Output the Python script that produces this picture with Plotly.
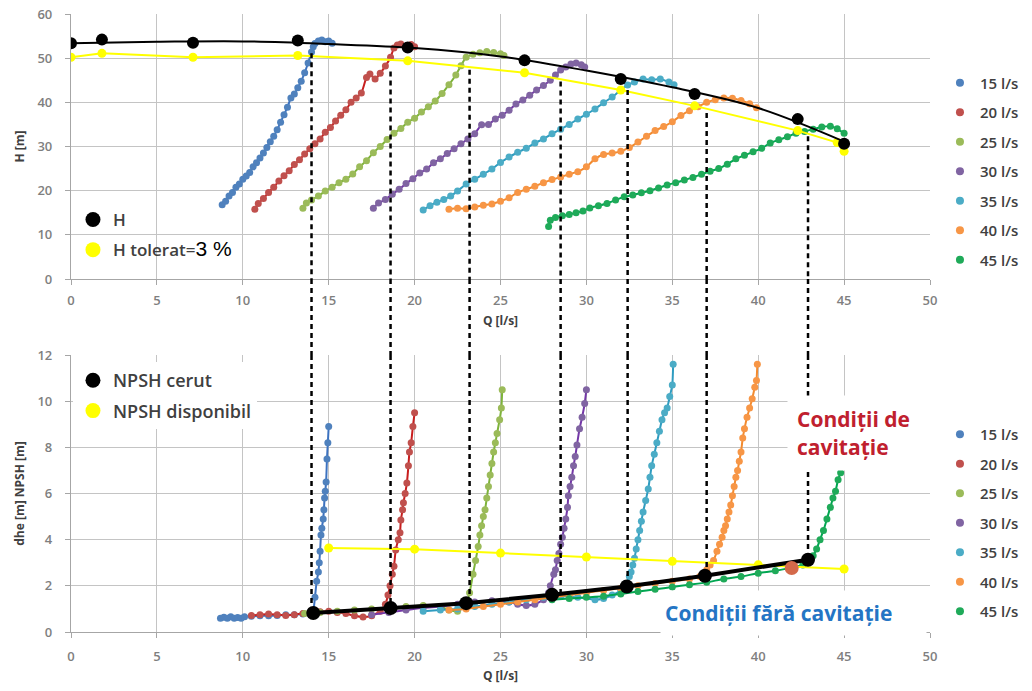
import plotly.graph_objects as go

# ---------------- top panel: head H versus flow Q ----------------
h_q = [0, 1.8, 7.1, 13.2, 19.6, 26.4, 32.0, 36.3, 42.3, 45.0]
h_val = [53.4, 54.2, 53.5, 54.0, 52.4, 49.5, 45.3, 41.9, 36.2, 30.6]
h_curve_q = [0, 5, 10, 15, 20, 25, 30, 35, 40, 45]
h_curve = [53.4, 53.7, 53.8, 53.2, 52.3, 50.4, 47.2, 43.4, 38.7, 31.1]
htol_q = [0, 1.8, 7.1, 13.2, 19.6, 26.4, 32.0, 36.3, 42.3, 44.6, 45.0]
htol_val = [50.2, 51.1, 50.2, 50.6, 49.4, 46.7, 42.8, 39.2, 33.6, 30.9, 28.9]

series_names = ["15 l/s", "20 l/s", "25 l/s", "30 l/s", "35 l/s", "40 l/s", "45 l/s"]

q15 = [8.8, 9.0, 9.2, 9.4, 9.6, 9.8, 10.0, 10.2, 10.4, 10.6, 10.8, 11.0, 11.2, 11.4, 11.6, 11.8, 12.0,
       12.2, 12.4, 12.6, 12.8, 13.0, 13.2, 13.4, 13.6, 13.8, 14.0, 14.1, 14.2, 14.4, 14.6, 14.8, 15.0, 15.2]
h15 = [16.8, 17.6, 18.8, 19.6, 20.8, 21.5, 22.6, 23.3, 24.1, 25.4, 26.3, 27.4, 28.5, 29.8, 31.1, 32.3, 33.8,
       35.5, 37.2, 38.9, 41.0, 41.9, 43.3, 44.8, 46.7, 48.9, 51.4, 52.6, 53.3, 53.9, 54.1, 53.7, 53.9, 53.4]

q20 = [10.7, 10.9, 11.2, 11.5, 11.8, 12.1, 12.4, 12.7, 13.0, 13.3, 13.6, 13.9, 14.2, 14.5, 14.8, 15.1, 15.4,
       15.7, 16.0, 16.3, 16.6, 16.9, 17.2, 17.4, 17.7, 18.0, 18.3, 18.6, 18.8, 19.0, 19.2, 19.5, 19.8, 20.0]
h20 = [15.8, 17.1, 18.2, 19.6, 20.8, 22.2, 23.4, 24.5, 25.9, 27.0, 28.3, 29.5, 30.6, 31.7, 33.2, 34.3, 35.8,
       37.1, 38.3, 40.0, 41.0, 42.1, 45.6, 46.4, 45.3, 46.6, 48.2, 50.2, 52.3, 53.0, 53.2, 52.7, 53.1, 52.6]

q25 = [13.5, 13.7, 14.0, 14.4, 14.8, 15.2, 15.6, 16.0, 16.4, 16.8, 17.2, 17.6, 18.0, 18.4, 18.8, 19.2,
       19.6, 20.0, 20.4, 20.8, 21.2, 21.6, 22.0, 22.4, 22.7, 23.0, 23.4, 23.8, 24.2, 24.6, 25.0, 25.2]
h25 = [16.0, 17.2, 17.9, 18.8, 19.9, 20.8, 21.8, 22.6, 23.8, 25.4, 26.8, 28.6, 30.0, 31.6, 33.0, 34.1,
       35.5, 36.4, 37.8, 39.0, 40.3, 42.0, 44.0, 46.2, 48.3, 50.2, 50.9, 51.2, 51.5, 51.3, 51.0, 50.6]

q30 = [17.6, 17.9, 18.3, 18.7, 19.1, 19.5, 19.9, 20.3, 20.7, 21.1, 21.5, 21.9, 22.3, 22.7, 23.1, 23.5, 23.9,
       24.3, 24.7, 25.1, 25.5, 25.9, 26.3, 26.7, 27.1, 27.5, 27.9, 28.2, 28.5, 28.8, 29.1, 29.4, 29.7, 29.9]
h30 = [16.0, 17.2, 18.0, 19.2, 20.3, 21.6, 22.7, 24.0, 24.9, 26.3, 27.2, 28.4, 29.5, 30.6, 31.7, 32.9, 34.9,
       35.0, 36.2, 37.1, 38.2, 39.6, 40.5, 41.6, 42.8, 43.8, 45.0, 46.2, 47.3, 48.0, 48.7, 48.9, 48.5, 48.0]

q35 = [20.5, 20.9, 21.3, 21.7, 22.1, 22.5, 23.0, 23.5, 24.0, 24.5, 25.0, 25.5, 26.0, 26.5, 27.0, 27.5,
       28.0, 28.5, 29.0, 29.5, 30.0, 30.5, 31.0, 31.5, 32.0, 32.4, 32.8, 33.3, 33.8, 34.3, 34.8, 35.1]
h35 = [15.6, 16.6, 17.4, 18.0, 18.8, 19.9, 21.5, 22.6, 23.7, 24.9, 26.4, 27.6, 28.7, 29.6, 30.8, 31.7,
       32.9, 33.9, 35.0, 36.2, 37.3, 38.5, 39.9, 41.2, 42.8, 43.9, 44.6, 45.3, 45.1, 45.3, 44.6, 44.0]

q40 = [22.0, 22.5, 23.0, 23.5, 24.0, 24.5, 25.0, 25.5, 26.0, 26.5, 27.0, 27.5, 28.0, 28.5, 29.0, 29.5, 30.0,
       30.5, 31.0, 31.5, 32.0, 32.5, 33.0, 33.5, 34.0, 34.5, 35.0, 35.5, 36.0, 36.5, 37.0, 37.5, 38.0, 38.5,
       39.0, 39.5, 39.9]
h40 = [15.8, 16.0, 15.9, 16.3, 16.7, 17.0, 17.6, 18.4, 19.6, 20.3, 21.0, 21.8, 22.5, 23.1, 23.7, 24.3, 25.4,
       27.2, 28.2, 28.5, 28.9, 29.8, 31.0, 32.3, 33.6, 34.5, 35.6, 37.0, 38.1, 39.0, 40.0, 40.6, 41.0, 40.9,
       40.4, 39.7, 38.8]

q45 = [27.8, 27.9, 28.2, 28.6, 29.0, 29.4, 29.8, 30.2, 30.7, 31.2, 31.7, 32.2, 32.7, 33.2, 33.7, 34.2, 34.7,
       35.2, 35.7, 36.2, 36.7, 37.2, 37.7, 38.2, 38.7, 39.2, 39.7, 40.2, 40.7, 41.2, 41.7, 42.2, 42.7, 43.2,
       43.7, 44.2, 44.6, 45.0]
h45 = [11.9, 13.3, 13.9, 14.3, 14.6, 15.0, 15.4, 16.1, 16.6, 17.1, 17.9, 18.6, 19.0, 19.5, 20.0, 20.6, 21.3,
       21.8, 22.4, 23.0, 23.7, 24.4, 25.0, 26.0, 27.2, 28.0, 28.8, 29.6, 30.8, 31.5, 32.2, 33.0, 33.4, 33.9,
       34.4, 34.6, 34.0, 33.0]

# ---------------- bottom panel: dhe / NPSH versus flow Q ----------------
q15b = [8.7, 8.9, 9.1, 9.3, 9.5, 9.7, 9.9, 10.1, 10.5, 11.0, 11.5, 12.0, 12.5, 13.0, 13.5, 14.0,
        14.1, 14.2, 14.3, 14.4, 14.45, 14.5, 14.55, 14.6, 14.68, 14.72, 14.76, 14.8, 14.85, 14.9, 14.95, 15.0]
n15 = [0.6, 0.64, 0.6, 0.66, 0.6, 0.63, 0.6, 0.66, 0.68, 0.7, 0.7, 0.72, 0.75, 0.75, 0.78, 0.8,
       0.9, 1.5, 2.2, 2.6, 3.0, 3.5, 4.2, 4.5, 4.9, 5.3, 5.8, 6.1, 6.5, 7.5, 8.2, 8.9]

q20b = [10.5, 11.0, 11.5, 12.0, 12.5, 13.0, 13.5, 14.0, 14.5, 15.0, 15.5, 16.0, 16.5, 17.0, 17.5, 18.0,
        18.3, 18.45, 18.57, 18.7, 18.8, 18.9, 19.05, 19.15, 19.2, 19.3, 19.35, 19.45, 19.55, 19.64, 19.7,
        19.8, 19.9, 20.0]
n20 = [0.72, 0.75, 0.78, 0.75, 0.72, 0.75, 0.8, 0.85, 0.88, 0.9, 0.85, 0.8, 0.7, 0.65, 0.7, 0.9,
       1.2, 1.6, 2.0, 2.5, 2.85, 3.55, 4.0, 4.3, 4.85, 5.3, 5.6, 6.0, 6.45, 7.2, 7.8, 8.2, 8.9, 9.5]

q25b = [13.6, 14.5, 15.5, 16.5, 17.5, 18.5, 19.5, 20.5, 21.5, 22.0, 22.5, 23.0, 23.2, 23.4, 23.55, 23.7,
        23.8, 23.9, 24.0, 24.1, 24.2, 24.3, 24.4, 24.5, 24.6, 24.7, 24.8, 24.95, 25.05, 25.1]
n25 = [0.8, 0.85, 0.9, 0.95, 1.0, 1.05, 1.1, 1.15, 1.1, 0.95, 0.9, 1.2, 1.7, 2.5, 3.1, 3.7,
       4.2, 4.6, 5.0, 5.3, 5.8, 6.3, 6.8, 7.3, 7.8, 8.2, 8.6, 9.2, 9.7, 10.5]

q30b = [17.5, 18.5, 19.5, 20.5, 21.5, 22.5, 23.5, 24.5, 25.5, 26.0, 26.5, 27.0, 27.5, 27.8, 27.9, 28.1,
        28.2, 28.3, 28.4, 28.5, 28.6, 28.7, 28.8, 28.9, 28.95, 29.05, 29.15, 29.25, 29.35, 29.45, 29.6,
        29.75, 29.9, 30.0]
n30 = [0.75, 0.85, 0.95, 1.05, 1.1, 1.2, 1.3, 1.35, 1.3, 1.2, 1.15, 1.2, 1.4, 1.7, 2.0, 2.5,
       2.7, 3.1, 3.4, 3.8, 4.1, 4.5, 4.9, 5.4, 5.9, 6.3, 6.7, 7.2, 7.6, 8.1, 8.8, 9.3, 9.9, 10.5]

q35b = [20.5, 21.5, 22.5, 23.5, 24.5, 25.5, 26.5, 27.5, 28.5, 29.5, 30.5, 31.0, 31.5, 32.0, 32.3, 32.5,
        32.6, 32.7, 32.8, 32.9, 33.0, 33.1, 33.2, 33.3, 33.45, 33.6, 33.7, 33.8, 33.95, 34.1, 34.25, 34.4,
        34.55, 34.7, 34.85, 35.0, 35.05]
n35 = [0.9, 0.95, 1.0, 1.1, 1.2, 1.3, 1.4, 1.5, 1.55, 1.5, 1.4, 1.45, 1.6, 1.8, 2.1, 2.4,
       2.6, 2.9, 3.2, 3.6, 4.0, 4.4, 4.8, 5.2, 5.7, 6.2, 6.7, 7.2, 7.7, 8.2, 8.7, 9.2,
       9.5, 9.7, 10.2, 10.7, 11.6]

q40b = [22.0, 23.0, 24.0, 25.0, 26.0, 27.0, 28.0, 29.0, 30.0, 31.0, 32.0, 33.0, 34.0, 35.0, 36.0, 36.6,
        37.0, 37.2, 37.4, 37.6, 37.75, 37.9, 38.0, 38.1, 38.2, 38.3, 38.4, 38.5, 38.6, 38.7, 38.8, 38.9,
        39.0, 39.1, 39.2, 39.35, 39.5, 39.65, 39.8, 39.9, 39.95]
n40 = [0.95, 1.0, 1.1, 1.2, 1.3, 1.4, 1.5, 1.6, 1.7, 1.8, 1.9, 2.0, 2.1, 2.2, 2.3, 2.4,
       2.7, 2.9, 3.1, 3.5, 3.8, 4.1, 4.4, 4.6, 4.9, 5.2, 5.5, 5.9, 6.3, 6.7, 7.0, 7.4,
       7.8, 8.4, 8.8, 9.3, 9.7, 10.1, 10.6, 10.9, 11.6]

q45b = [28.0, 29.0, 30.0, 31.0, 32.0, 33.0, 34.0, 35.0, 36.0, 37.0, 38.0, 39.0, 40.0, 41.0, 42.0, 42.6,
        43.0, 43.2, 43.4, 43.6, 43.8, 44.0, 44.2, 44.35, 44.5, 44.65, 44.8, 44.95]
n45 = [1.4, 1.45, 1.5, 1.55, 1.65, 1.75, 1.85, 1.95, 2.05, 2.15, 2.3, 2.4, 2.55, 2.65, 2.8, 2.9,
       3.05, 3.3, 3.6, 4.0, 4.4, 4.9, 5.4, 5.8, 6.1, 6.6, 6.9, 7.2]

npsh_req_q = [14.1, 18.6, 23.0, 28.0, 32.35, 36.9, 42.9]
npsh_req = [0.82, 1.04, 1.25, 1.61, 1.97, 2.44, 3.13]
npsh_av_q = [15, 20, 25, 30, 35, 40, 45]
npsh_av = [3.64, 3.59, 3.42, 3.25, 3.06, 2.91, 2.73]
onset45_q = [41.95]
onset45 = [2.77]

# onset of cavitation: flow, head on the top panel, NPSH on the bottom panel
cav_q = [14.0, 18.6, 23.2, 28.5, 32.4, 37.0, 42.9]
cav_h = [51.1, 47.0, 47.4, 44.7, 42.8, 37.6, 32.3]
cav_npsh = [0.82, 1.04, 1.25, 1.61, 1.97, 2.44, 3.13]

top_q = [q15, q20, q25, q30, q35, q40, q45]
top_h = [h15, h20, h25, h30, h35, h40, h45]
bot_q = [q15b, q20b, q25b, q30b, q35b, q40b, q45b]
bot_n = [n15, n20, n25, n30, n35, n40, n45]

marker_colors = ["#4F81BD", "#C0504D", "#9BBB59", "#8064A2", "#4BACC6", "#F79646", "#1FAA59"]
line_colors = ["#3C72C0", "#C81E1E", "#7DB33A", "#7437A8", "#2F9CC0", "#F28A2E", "#00A651"]

TOP_DOM = [0.5712, 1.0]
BOT_DOM = [0.0, 0.4482]

fig = go.Figure()

# measured series (top panel)
for name, xs, ys, mc, lc in zip(series_names, top_q, top_h, marker_colors, line_colors):
    fig.add_trace(go.Scatter(
        x=xs, y=ys, mode="lines+markers", xaxis="x", yaxis="y", showlegend=False,
        line=dict(color=lc, width=2, shape="spline", smoothing=0.6),
        marker=dict(color=mc, size=7), name=name))

fig.add_trace(go.Scatter(x=htol_q, y=htol_val, mode="lines+markers", xaxis="x", yaxis="y",
                         showlegend=False, line=dict(color="#FFFF00", width=2),
                         marker=dict(color="#FFFF00", size=9), name="H tolerat"))
fig.add_trace(go.Scatter(x=h_curve_q, y=h_curve, mode="lines", xaxis="x", yaxis="y",
                         showlegend=False, line=dict(color="black", width=2, shape="spline"),
                         name="H"))
fig.add_trace(go.Scatter(x=h_q, y=h_val, mode="markers", xaxis="x", yaxis="y",
                         showlegend=False, marker=dict(color="black", size=12), name="H"))

# measured series (bottom panel)
for name, xs, ys, mc, lc in zip(series_names, bot_q, bot_n, marker_colors, line_colors):
    fig.add_trace(go.Scatter(
        x=xs, y=ys, mode="lines+markers", xaxis="x2", yaxis="y2", showlegend=False,
        line=dict(color=lc, width=2, shape="spline", smoothing=0.5),
        marker=dict(color=mc, size=7), name=name))

fig.add_trace(go.Scatter(x=npsh_av_q, y=npsh_av, mode="lines+markers", xaxis="x2", yaxis="y2",
                         showlegend=False, line=dict(color="#FFFF00", width=2),
                         marker=dict(color="#FFFF00", size=9), name="NPSH disponibil"))
fig.add_trace(go.Scatter(x=npsh_req_q, y=npsh_req, mode="lines+markers", xaxis="x2", yaxis="y2",
                         showlegend=False, line=dict(color="black", width=4),
                         marker=dict(color="black", size=14), name="NPSH cerut"))
fig.add_trace(go.Scatter(x=onset45_q, y=onset45, mode="markers", xaxis="x2", yaxis="y2",
                         showlegend=False, marker=dict(color="#D4694A", size=14), name="45 l/s"))

# legend entries (symbols only)
def legend_dot(name, color, size, legend, group):
    fig.add_trace(go.Scatter(x=[None], y=[None], mode="markers", name=name, legend=legend,
                             legendgroup=group, marker=dict(color=color, size=size),
                             xaxis="x", yaxis="y", showlegend=True))

legend_dot("H", "black", 15, "legend", "a1")
legend_dot("H tolerat=<span style='font-family:Arial, Liberation Sans;font-size:21px;"
           "color:#000000;font-weight:400'>3 %</span>", "#FFFF00", 15, "legend", "a2")
legend_dot("NPSH cerut", "black", 15, "legend2", "b1")
legend_dot("NPSH disponibil", "#FFFF00", 15, "legend2", "b2")
for i, (name, mc) in enumerate(zip(series_names, marker_colors)):
    legend_dot(name, mc, 8, "legend3", f"c{i}")
for i, (name, mc) in enumerate(zip(series_names, marker_colors)):
    legend_dot(name, mc, 8, "legend4", f"d{i}")

# dashed markers of cavitation onset, running through both panels
dash_line = dict(color="black", width=2.5, dash="5px,4px")
for q, h, n in zip(cav_q, cav_h, cav_npsh):
    fig.add_shape(type="line", xref="x", yref="y", x0=q, x1=q, y0=h, y1=0, line=dash_line)
    fig.add_shape(type="line", xref="x", yref="paper", x0=q, x1=q,
                  y0=TOP_DOM[0], y1=BOT_DOM[1], line=dash_line)
    fig.add_shape(type="line", xref="x2", yref="y2", x0=q, x1=q, y0=12, y1=n, line=dash_line)

tick_font = dict(family="Open Sans", size=13, color="#7F7F7F", weight=600)
title_font = dict(family="Open Sans", size=12, color="#404040", weight=700)
axis_common = dict(showgrid=True, gridcolor="#C4C4C4", gridwidth=1.3, zeroline=False,
                   showline=True, linecolor="#A6A6A6", linewidth=1.3, ticks="outside",
                   ticklen=5, tickcolor="#A6A6A6", tickwidth=1.3, tickfont=tick_font)

fig.update_layout(
    width=1032, height=691,
    margin=dict(l=71, r=102, t=14, b=59, autoexpand=False),
    paper_bgcolor="white", plot_bgcolor="white",
    font=dict(family="Open Sans", size=13, color="#404040"),
    xaxis=dict(domain=[0, 1], anchor="y", range=[0, 50], dtick=5, ticklabelstandoff=4,
               title=dict(text="Q [l/s]", font=title_font, standoff=8), **axis_common),
    yaxis=dict(domain=TOP_DOM, anchor="x", range=[0, 60], dtick=10, ticklabelstandoff=10,
               title=dict(text="H [m]", font=title_font, standoff=10), **axis_common),
    xaxis2=dict(domain=[0, 1], anchor="y2", range=[0, 50], dtick=5, ticklabelstandoff=7,
                title=dict(text="Q [l/s]", font=title_font, standoff=7), **axis_common),
    yaxis2=dict(domain=BOT_DOM, anchor="x2", range=[0, 12], dtick=2, ticklabelstandoff=10,
                title=dict(text="dhe [m] NPSH [m]", font=title_font, standoff=10), **axis_common),
    legend=dict(x=0.0023, y=0.6958, xanchor="left", yanchor="top", bgcolor="rgba(0,0,0,0)",
                font=dict(family="Open Sans", size=17, color="#404040", weight=600),
                traceorder="grouped", tracegroupgap=5),
    legend2=dict(x=0.0023, y=0.4369, xanchor="left", yanchor="top", bgcolor="white",
                 font=dict(family="Open Sans", size=18, color="#404040", weight=600),
                 traceorder="grouped", tracegroupgap=4),
    legend3=dict(x=1.0116, y=0.915, xanchor="left", yanchor="top", bgcolor="rgba(0,0,0,0)",
                 font=dict(family="Open Sans", size=15, color="#404040", weight=600),
                 traceorder="grouped", tracegroupgap=7),
    legend4=dict(x=1.0116, y=0.3463, xanchor="left", yanchor="top", bgcolor="rgba(0,0,0,0)",
                 font=dict(family="Open Sans", size=15, color="#404040", weight=600),
                 traceorder="grouped", tracegroupgap=7),
    annotations=[
        dict(text="Condiții de<br>cavitație", xref="paper", yref="paper",
             x=0.8335, y=0.3835, xanchor="left", yanchor="top", showarrow=False,
             align="left", valign="middle", width=130, height=56, borderpad=9,
             bgcolor="white", font=dict(family="Open Sans", size=21, color="#C0202E", weight=700)),
        dict(text="Condiții fără cavitație", xref="paper", yref="paper",
             x=0.6857, y=0.068, xanchor="left", yanchor="top", showarrow=False,
             align="left", valign="middle", width=257, height=36, borderpad=4,
             bgcolor="white", font=dict(family="Open Sans", size=21, color="#2475C4", weight=700)),
    ],
)

fig.write_html("out.html")
